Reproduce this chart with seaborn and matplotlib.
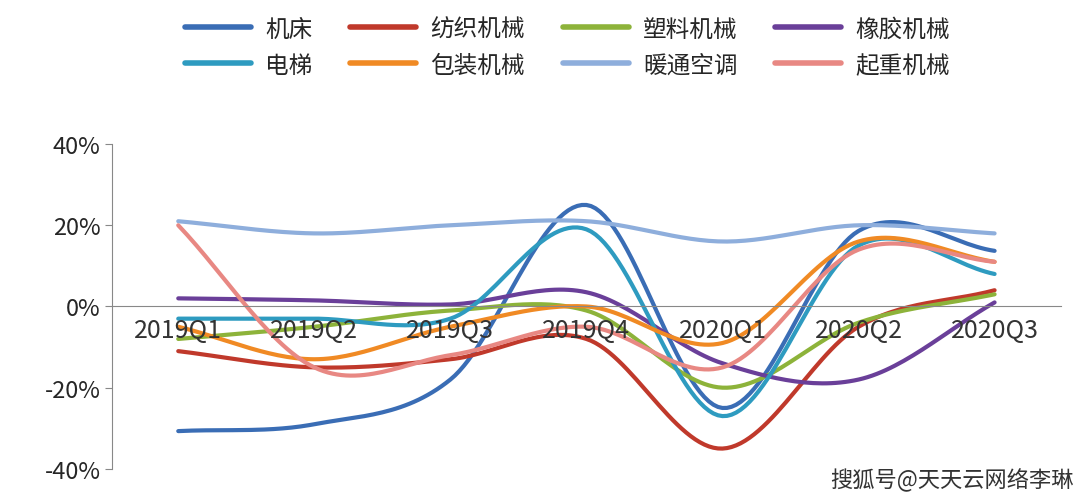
import numpy as np
import pandas as pd
import matplotlib.pyplot as plt
import seaborn as sns

quarters = ["2019Q1", "2019Q2", "2019Q3", "2019Q4", "2020Q1", "2020Q2", "2020Q3"]
series_names = ["机床", "纺织机械", "塑料机械", "橡胶机械", "电梯", "包装机械", "暖通空调", "起重机械"]
jichuang = [-30.7, -29, -18, 25, -25, 18.6, 13.7]
fangzhi = [-11, -15, -13, -8, -35, -5, 4]
suliao = [-8, -5, -1, -1, -20, -4, 3]
xiangjiao = [2, 1.5, 0.5, 3.5, -14, -18, 1]
dianti = [-3, -3, -3, 19, -27, 15, 8]
baozhuang = [-5, -13, -5, 0, -9, 16, 11]
nuantong = [21, 18, 20, 21, 16, 20, 18]
qizhong = [20, -15, -12, -5, -15, 14, 11]
colors = ["#3A6DB5", "#C0392B", "#8DB33A", "#6A3F99", "#2E9BC0", "#F08A24", "#8EAEDC", "#E88883"]


def smooth(vals, n=30):
    # Catmull-Rom curve through the quarterly points (Excel-like smoothed line)
    p = np.array(vals, float)
    p = np.concatenate([[2 * p[0] - p[1]], p, [2 * p[-1] - p[-2]]])
    xs, ys = [], []
    for i in range(1, len(p) - 2):
        t = np.linspace(0, 1, n, endpoint=False)
        p0, p1, p2, p3 = p[i - 1], p[i], p[i + 1], p[i + 2]
        y = 0.5 * ((2 * p1) + (-p0 + p2) * t + (2 * p0 - 5 * p1 + 4 * p2 - p3) * t ** 2
                   + (-p0 + 3 * p1 - 3 * p2 + p3) * t ** 3)
        xs.extend(i - 1 + t)
        ys.extend(y)
    xs.append(len(vals) - 1)
    ys.append(vals[-1])
    return xs, ys


all_vals = [jichuang, fangzhi, suliao, xiangjiao, dianti, baozhuang, nuantong, qizhong]
frames = []
for name, vals in zip(series_names, all_vals):
    xs, ys = smooth(vals)
    frames.append(pd.DataFrame({"x": xs, "y": ys, "series": name}))
df = pd.concat(frames)

sns.set_style("white")
plt.rcParams["font.family"] = ["Noto Sans CJK SC", "DejaVu Sans"]

fig = plt.figure(figsize=(10.9, 5.02), dpi=100)
ax = fig.add_axes([0.103, 0.064, 0.87, 0.647])
sns.lineplot(data=df, x="x", y="y", hue="series", hue_order=series_names,
             palette=colors, linewidth=3, ax=ax, legend=False, sort=False)

ax.set_xlim(-0.485, 6.485)
ax.set_ylim(-40, 40)
ax.set_yticks([-40, -20, 0, 20, 40])
ax.set_yticklabels([f"{v}%" for v in [-40, -20, 0, 20, 40]], fontsize=17)
ax.set_xticks([])
ax.set_xlabel("")
ax.set_ylabel("")
ax.spines["right"].set_visible(False)
ax.spines["top"].set_visible(False)
ax.spines["bottom"].set_position(("data", 0))
ax.spines["left"].set_color("#888888")
ax.spines["bottom"].set_color("#888888")
ax.tick_params(axis="y", length=5, color="#888888", direction="out", left=True)
for i, q in enumerate(quarters):
    ax.text(i, -2.5, q, ha="center", va="top", fontsize=18, color="#333333")

# legend fills column-wise, so reorder to get row-wise layout
order = [0, 4, 1, 5, 2, 6, 3, 7]
handles = [plt.Line2D([], [], color=colors[i], lw=4) for i in order]
labels = [series_names[i] for i in order]
fig.legend(handles, labels, ncol=4, loc="upper left", bbox_to_anchor=(0.15, 1.005),
           frameon=False, fontsize=17, handlelength=2.8, handletextpad=0.6,
           columnspacing=1.6, labelspacing=0.55)
fig.text(0.985, 0.02, "搜狐号@天天云网络李琳", ha="right", va="bottom", fontsize=16, color="#333333")

fig.savefig("out.png", dpi=100)
